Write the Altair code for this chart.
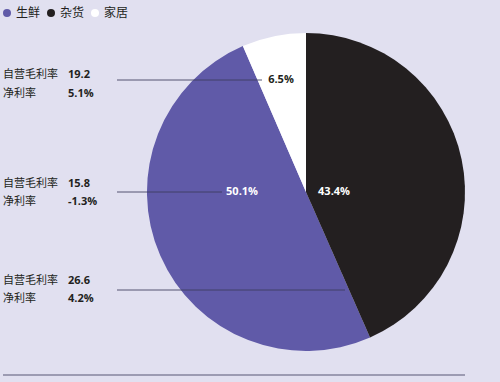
import altair as alt
import pandas as pd

# ---- data ----
categories = ["生鲜", "杂货", "家居"]
shares = [50.1, 43.4, 6.5]
slice_order = [2, 1, 3]          # clockwise drawing order from 12 o'clock
colors = ["#605aa8", "#231f20", "#ffffff"]
share_labels = ["50.1%", "43.4%", "6.5%"]
label_colors = ["#ffffff", "#ffffff", "#231f20"]

metric_names = ["自营毛利率", "净利率"]
gross_margin = ["19.2", "15.8", "26.6"]
net_margin = ["5.1%", "-1.3%", "4.2%"]

BG = "#e1e0f0"
CX, CY, R = 306, 192, 159

pie_df = pd.DataFrame({"cat": categories, "share": shares, "ord": slice_order})

pie = alt.Chart(pie_df).mark_arc(radius=R, stroke=None).encode(
    theta=alt.Theta("share:Q", stack=True),
    order=alt.Order("ord:Q"),
    color=alt.Color(
        "cat:N",
        scale=alt.Scale(domain=categories, range=colors),
        legend=alt.Legend(
            title=None, orient="none", legendX=1, legendY=7, direction="horizontal",
            symbolType="circle", symbolSize=64, symbolStrokeWidth=0,
            labelFont="Noto Sans CJK SC", labelFontSize=12, labelColor="#231f20",
            labelOffset=3, columnPadding=4, padding=0,
        ),
    ),
    x=alt.value(CX),
    y=alt.value(CY),
)

layers = [pie]

# slice value labels
slice_pos = [(242, 192), (334, 192), (281, 80)]
for i, (px, py) in enumerate(slice_pos):
    d = pd.DataFrame({"t": [share_labels[i]]})
    layers.append(
        alt.Chart(d).mark_text(
            font="Open Sans", fontSize=11, fontWeight="bold", color=label_colors[i],
            align="center", baseline="middle",
        ).encode(text="t:N", x=alt.value(px), y=alt.value(py))
    )

# annotation rows
row_y = [(75, 94, 80), (184, 202, 192), (281, 299, 290)]
line_ends = [262, 222, 345]
for i, (y1, y2, yl) in enumerate(row_y):
    d1 = pd.DataFrame({"t": [metric_names[0]]})
    d2 = pd.DataFrame({"t": [metric_names[1]]})
    v1 = pd.DataFrame({"t": [gross_margin[i]]})
    v2 = pd.DataFrame({"t": [net_margin[i]]})
    for dd, yy in ((d1, y1), (d2, y2)):
        layers.append(
            alt.Chart(dd).mark_text(
                font="Noto Sans CJK SC", fontSize=11, color="#231f20",
                align="left", baseline="middle",
            ).encode(text="t:N", x=alt.value(3), y=alt.value(yy))
        )
    for dd, yy in ((v1, y1), (v2, y2)):
        layers.append(
            alt.Chart(dd).mark_text(
                font="Open Sans", fontSize=11, fontWeight="bold", color="#231f20",
                align="left", baseline="middle",
            ).encode(text="t:N", x=alt.value(68), y=alt.value(yy))
        )
    layers.append(
        alt.Chart(pd.DataFrame({"a": [0]})).mark_rule(color="#3c3c5c", strokeWidth=1, opacity=0.85).encode(
            x=alt.value(117), x2=alt.value(line_ends[i]), y=alt.value(yl)
        )
    )

# bottom rule
layers.append(
    alt.Chart(pd.DataFrame({"a": [0]})).mark_rule(color="#9c9bb2", strokeWidth=2).encode(
        x=alt.value(3), x2=alt.value(465), y=alt.value(375)
    )
)

chart = alt.layer(*layers).properties(
    width=500, height=382, background=BG,
    autosize=alt.AutoSizeParams(type="none"), padding=0,
).configure_view(stroke=None)

chart.save("out.html", embed_options={"renderer": "svg", "actions": False})
